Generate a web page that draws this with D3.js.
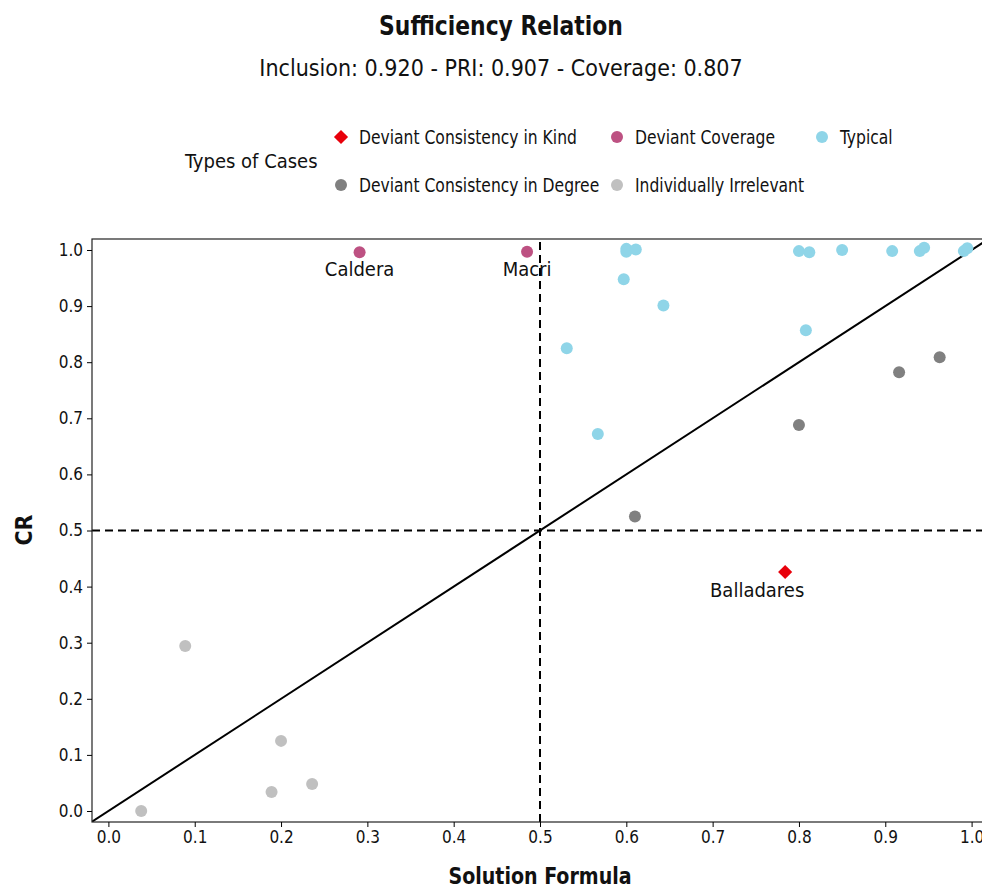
<!DOCTYPE html>
<html>
<head>
<meta charset="utf-8">
<script src="https://cdn.jsdelivr.net/npm/d3@7"></script>
<style>
  body { margin: 0; background: #fff; }
  svg text { font-family: "Liberation Sans Narrow", "DejaVu Sans Condensed", "Roboto", sans-serif; fill: #111; }
</style>
</head>
<body>
<div id="chart"></div>
<script>
// Texte
const title = "Sufficiency Relation";
const subtitle = "Inclusion: 0.920 - PRI: 0.907 - Coverage: 0.807";
const xTitle = "Solution Formula";
const yTitle = "CR";
const legendTitle = "Types of Cases";

// Achsen-Ticks
const xTicks = [0, 0.1, 0.2, 0.3, 0.4, 0.5, 0.6, 0.7, 0.8, 0.9, 1.0];
const yTicks = [0, 0.1, 0.2, 0.3, 0.4, 0.5, 0.6, 0.7, 0.8, 0.9, 1.0];

// Fälle je Typ: [Solution Formula, CR]
const deviantKind = [[0.784, 0.426]];
const deviantKindNames = ["Balladares"];
const deviantCoverage = [[0.291, 0.996], [0.485, 0.997]];
const deviantCoverageNames = ["Caldera", "Macri"];
const typical = [
  [0.600, 1.002], [0.600, 0.997], [0.611, 1.001], [0.800, 0.998], [0.812, 0.996],
  [0.850, 1.000], [0.908, 0.998], [0.940, 0.998], [0.945, 1.004], [0.991, 0.998],
  [0.995, 1.003], [0.597, 0.948], [0.643, 0.901], [0.808, 0.857], [0.531, 0.825],
  [0.567, 0.672]
];
const deviantDegree = [[0.610, 0.525], [0.800, 0.688], [0.916, 0.782], [0.963, 0.809]];
const irrelevant = [[0.089, 0.294], [0.200, 0.125], [0.189, 0.034], [0.236, 0.048], [0.038, 0.0]];

const caseTypes = ["Deviant Consistency in Kind", "Deviant Coverage", "Typical",
                   "Deviant Consistency in Degree", "Individually Irrelevant"];

// Farben
const colors = {
  "Deviant Consistency in Kind": "#e8000b",
  "Deviant Coverage": "#bd5182",
  "Typical": "#8fd5e8",
  "Deviant Consistency in Degree": "#808080",
  "Individually Irrelevant": "#c0c0c0"
};

const W = 982, H = 888;
const svg = d3.select("#chart").append("svg")
    .attr("width", W)
    .attr("height", H);

const panel = {left: 92, right: 988, top: 239, bottom: 822};

const x = d3.scaleLinear().domain([-0.019, 1.019]).range([panel.left, panel.right]);
const y = d3.scaleLinear().domain([-0.0196, 1.0196]).range([panel.bottom, panel.top]);

// Schrift etwas schmaler machen (die Vorlage nutzt eine Condensed-Schrift)
function squeeze(sel, f) {
  sel.each(function() {
    const len = this.getComputedTextLength();
    d3.select(this).attr("textLength", len * f).attr("lengthAdjust", "spacingAndGlyphs");
  });
}

// Titel
svg.append("text")
    .attr("x", 501).attr("y", 35)
    .attr("text-anchor", "middle")
    .style("font-size", "27px").style("font-weight", "bold")
    .text(title)
    .call(squeeze, 0.9);
svg.append("text")
    .attr("x", 501).attr("y", 76)
    .attr("text-anchor", "middle")
    .style("font-size", "23px")
    .text(subtitle);

// Legende
svg.append("text")
    .attr("x", 185).attr("y", 168)
    .style("font-size", "20px")
    .text(legendTitle);

const legendPos = [[341, 137], [617, 137], [822, 137], [341, 185], [617, 185]];
const legend = svg.append("g");
caseTypes.forEach((t, i) => {
  const [lx, ly] = legendPos[i];
  if (t === "Deviant Consistency in Kind") {
    legend.append("path")
        .attr("transform", `translate(${lx},${ly}) rotate(45)`)
        .attr("d", "M-5,-5H5V5H-5Z")
        .attr("fill", colors[t]);
  } else {
    legend.append("circle")
        .attr("cx", lx).attr("cy", ly).attr("r", 6)
        .attr("fill", colors[t]);
  }
  legend.append("text")
      .attr("x", lx + 18).attr("y", ly + 7)
      .style("font-size", "19px")
      .text(t)
      .call(squeeze, 0.91);
});

// Clip für das Panel
svg.append("clipPath").attr("id", "clip")
  .append("rect")
    .attr("x", panel.left).attr("y", panel.top)
    .attr("width", panel.right - panel.left).attr("height", panel.bottom - panel.top);

const g = svg.append("g");

// Hilfslinien
g.append("line")
    .attr("x1", x(0.5)).attr("x2", x(0.5))
    .attr("y1", y(y.domain()[0])).attr("y2", y(y.domain()[1]))
    .attr("stroke", "#000").attr("stroke-width", 2)
    .attr("stroke-dasharray", "8,5");
g.append("line")
    .attr("x1", x(x.domain()[0])).attr("x2", x(x.domain()[1]))
    .attr("y1", y(0.5)).attr("y2", y(0.5))
    .attr("stroke", "#000").attr("stroke-width", 2)
    .attr("stroke-dasharray", "8,5");

// Diagonale
g.append("line")
    .attr("clip-path", "url(#clip)")
    .attr("x1", x(-0.05)).attr("y1", y(-0.05))
    .attr("x2", x(1.05)).attr("y2", y(1.05))
    .attr("stroke", "#000").attr("stroke-width", 2);

// Punkte
const drawCircles = (data, type) => {
  g.selectAll(null).data(data).enter().append("circle")
      .attr("cx", d => x(d[0]))
      .attr("cy", d => y(d[1]))
      .attr("r", 6)
      .attr("fill", colors[type]);
};
drawCircles(irrelevant, "Individually Irrelevant");
drawCircles(deviantDegree, "Deviant Consistency in Degree");
drawCircles(typical, "Typical");
drawCircles(deviantCoverage, "Deviant Coverage");

g.selectAll(null).data(deviantKind).enter().append("path")
    .attr("transform", d => `translate(${x(d[0])},${y(d[1])}) rotate(45)`)
    .attr("d", "M-5,-5H5V5H-5Z")
    .attr("fill", colors["Deviant Consistency in Kind"]);

// Beschriftungen
g.selectAll(null).data(deviantCoverage).enter().append("text")
    .attr("x", d => x(d[0]))
    .attr("y", d => y(d[1]) + 24)
    .attr("text-anchor", "middle")
    .style("font-size", "20px")
    .text((d, i) => deviantCoverageNames[i]);
g.selectAll(null).data(deviantKind).enter().append("text")
    .attr("x", d => x(d[0]) - 28)
    .attr("y", d => y(d[1]) + 25)
    .attr("text-anchor", "middle")
    .style("font-size", "20px")
    .text((d, i) => deviantKindNames[i]);

// Rahmen
svg.append("rect")
    .attr("x", panel.left).attr("y", panel.top)
    .attr("width", panel.right - panel.left).attr("height", panel.bottom - panel.top)
    .attr("fill", "none").attr("stroke", "#222").attr("stroke-width", 1.2);

// x-Achse
const xAxis = svg.append("g")
    .attr("transform", "translate(0," + panel.bottom + ")")
    .call(d3.axisBottom(x).tickValues(xTicks).tickFormat(d3.format(".1f")).tickSize(5).tickPadding(4));
xAxis.select(".domain").remove();
xAxis.selectAll("text").style("font-size", "17px").attr("fill", "#333");

// y-Achse
const yAxis = svg.append("g")
    .attr("transform", "translate(" + panel.left + ",0)")
    .call(d3.axisLeft(y).tickValues(yTicks).tickFormat(d3.format(".1f")).tickSize(5).tickPadding(4));
yAxis.select(".domain").remove();
yAxis.selectAll("text").style("font-size", "17px").attr("fill", "#333");

// Achsentitel
svg.append("text")
    .attr("x", (panel.left + panel.right) / 2).attr("y", 884)
    .attr("text-anchor", "middle")
    .style("font-size", "23px").style("font-weight", "bold")
    .text(xTitle)
    .call(squeeze, 0.92);
svg.append("text")
    .attr("transform", "translate(32,530) rotate(-90)")
    .attr("text-anchor", "middle")
    .style("font-size", "23px").style("font-weight", "bold")
    .text(yTitle);
</script>
</body>
</html>
